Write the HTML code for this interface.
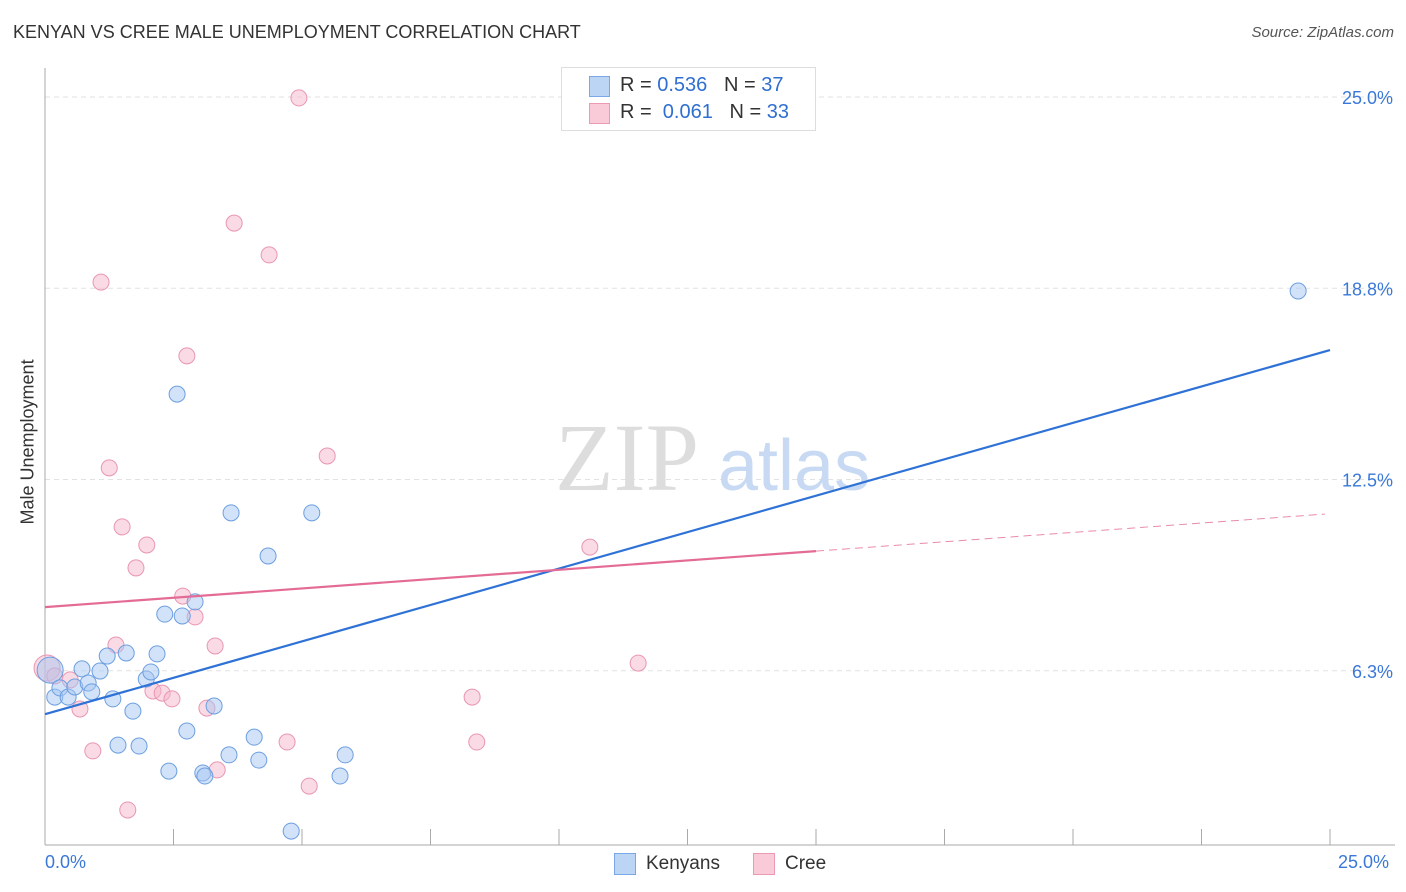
<!DOCTYPE html>
<html><head><meta charset="utf-8"><style>
body{margin:0;background:#fff;font-family:"Liberation Sans",sans-serif;}
#wrap{position:relative;width:1406px;height:892px;overflow:hidden;}
.t{position:absolute;white-space:nowrap;}
</style></head><body>
<div id="wrap">
<div class="t" style="left:13px;top:22px;font-size:18px;color:#333;">KENYAN VS CREE MALE UNEMPLOYMENT CORRELATION CHART</div>
<div class="t" style="right:12px;top:24px;font-size:15px;color:#555;font-style:italic;">Source: ZipAtlas.com</div>
<svg id="svg" width="1406" height="892" style="position:absolute;left:0;top:0"></svg>
<div class="t" style="left:-42px;top:444px;font-size:18px;color:#333;transform:rotate(-90deg);width:140px;text-align:center;">Male Unemployment</div>
<div style="position:absolute;left:561px;top:67px;width:253px;height:62px;border:1px solid #ddd;background:#fff;font-size:20px;">
<div style="position:absolute;left:27px;top:8px;width:19px;height:19px;background:#bcd5f5;border:1px solid #7aa8e6;"></div>
<div class="t" style="left:58px;top:6px;color:#333">R = <span style="color:#2f6fd0">0.536</span>&nbsp;&nbsp;&nbsp;N = <span style="color:#2f6fd0">37</span></div>
<div style="position:absolute;left:27px;top:35px;width:19px;height:19px;background:#f9cad8;border:1px solid #ec9ab4;"></div>
<div class="t" style="left:58px;top:33px;color:#333">R = &nbsp;<span style="color:#2f6fd0">0.061</span>&nbsp;&nbsp;&nbsp;N = <span style="color:#2f6fd0">33</span></div>
</div>
<div class="t" style="left:45px;top:852px;font-size:18px;color:#3a78d8;">0.0%</div>
<div class="t" style="left:1338px;top:852px;font-size:18px;color:#3a78d8;">25.0%</div>
<div style="position:absolute;left:614px;top:853px;width:20px;height:20px;background:#bcd5f5;border:1px solid #7aa8e6;"></div>
<div class="t" style="left:646px;top:853px;font-size:19px;color:#333;">Kenyans</div>
<div style="position:absolute;left:753px;top:853px;width:20px;height:20px;background:#f9cad8;border:1px solid #ec9ab4;"></div>
<div class="t" style="left:785px;top:853px;font-size:19px;color:#333;">Cree</div>
</div>
<script>
const yTicks=[25,18.75,12.5,6.25];
const yTickLabels=["25.0%","18.8%","12.5%","6.3%"];
const kenX=[0.10,0.19,0.29,0.45,0.58,0.72,0.84,0.91,1.07,1.21,1.32,1.42,1.58,1.71,1.83,1.97,2.06,2.18,2.33,2.41,2.57,2.67,2.76,2.92,3.07,3.11,3.29,3.58,3.62,4.07,4.16,4.34,4.79,5.19,5.74,5.84,24.38];
const kenY=[6.27,5.39,5.69,5.39,5.72,6.31,5.85,5.56,6.24,6.73,5.33,3.82,6.83,4.93,3.79,5.98,6.21,6.80,8.10,2.97,15.29,8.04,4.28,8.50,2.91,2.81,5.10,3.50,11.41,4.08,3.33,10.00,1.01,11.41,2.81,3.50,18.66];
const creeX=[0.04,0.19,0.49,0.68,0.93,1.09,1.25,1.38,1.50,1.61,1.77,1.98,2.10,2.28,2.47,2.68,2.76,2.92,3.15,3.31,3.35,3.68,4.36,4.71,4.94,5.14,5.49,8.31,8.40,10.60,11.54];
const creeY=[6.34,6.08,5.95,5.00,3.63,18.95,12.88,7.09,10.95,1.70,9.61,10.36,5.59,5.52,5.33,8.69,16.54,8.01,5.03,7.06,3.01,20.88,19.84,3.92,24.97,2.48,13.27,5.39,3.92,10.29,6.50];
const kenTrend=[[0,4.83],[25,16.73]];
const creeTrend=[[0,8.33],[15,10.16],[24.9,11.37]];
const X=v=>45+v*51.4, Y=v=>862-v*30.6;
const s=document.getElementById('svg'),NS="http://www.w3.org/2000/svg";
function mk(t,a){const e=document.createElementNS(NS,t);for(const k in a)e.setAttribute(k,a[k]);s.appendChild(e);return e;}
yTicks.forEach((t,i)=>{
 const l=mk('line',{x1:45,x2:1395,y1:Y(t),y2:Y(t),stroke:'#e2e2e2','stroke-dasharray':'5,4'});
 
 
 const tx=mk('text',{x:1393,y:Y(t)+7,'text-anchor':'end','font-size':18,fill:'#3a78d8','font-family':'Liberation Sans'});
 tx.textContent=yTickLabels[i];
 
 
});
const ax=mk('line',{x1:45,x2:45,y1:68,y2:845,stroke:'#aaa'});


const bx=mk('line',{x1:45,x2:1395,y1:845,y2:845,stroke:'#aaa'});


for(let i=0;i<=10;i++){const tk=mk('line',{x1:X(i*2.5),x2:X(i*2.5),y1:829,y2:845,stroke:'#aaa'});
 
 }
const w1=mk('text',{x:555,y:490,'font-size':96,fill:'#ddd','font-family':'Liberation Serif'});w1.textContent='ZIP';


const w2=mk('text',{x:718,y:490,'font-size':72,fill:'#c8daf3','font-family':'Liberation Sans'});w2.textContent='atlas';


function dots(xs,ys,fill,stroke,name){xs.forEach((x,i)=>{const c=mk('circle',{cx:X(x),cy:Y(ys[i]),r:i===0?13:8,fill:fill,stroke:stroke,'stroke-width':1});
 
 });}
dots(creeX,creeY,'rgba(246,182,202,0.5)','#e996b2','cree-point');
dots(kenX,kenY,'rgba(165,198,242,0.5)','#6c9fe0','kenyan-point');
const kl=mk('line',{x1:X(kenTrend[0][0]),y1:Y(kenTrend[0][1]),x2:X(kenTrend[1][0]),y2:Y(kenTrend[1][1]),stroke:'#2f72d6','stroke-width':2.2});


const cl=mk('line',{x1:X(creeTrend[0][0]),y1:Y(creeTrend[0][1]),x2:X(creeTrend[1][0]),y2:Y(creeTrend[1][1]),stroke:'#e46b95','stroke-width':2.2});


const cd=mk('line',{x1:X(creeTrend[1][0]),y1:Y(creeTrend[1][1]),x2:X(creeTrend[2][0]),y2:Y(creeTrend[2][1]),stroke:'#e98aab','stroke-width':1,'stroke-dasharray':'8,5'});


</script>
</body></html>
